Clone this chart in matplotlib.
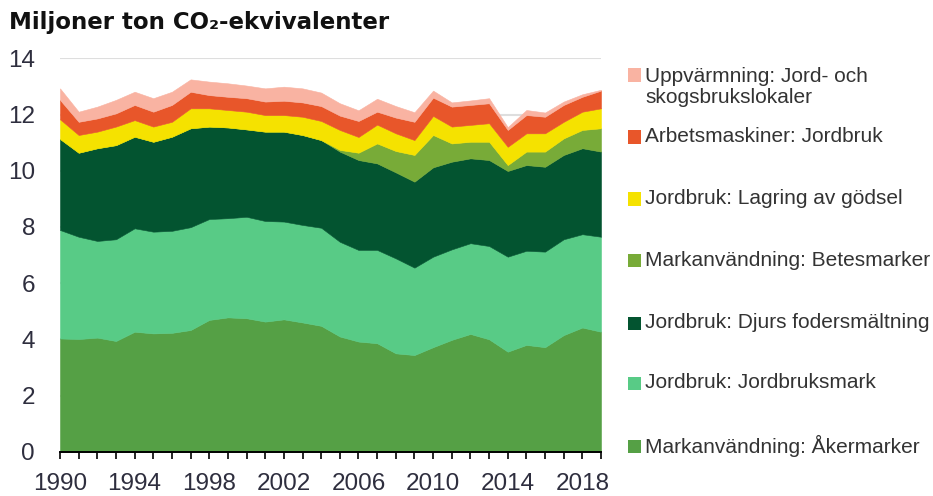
import matplotlib
matplotlib.use("Agg")
import matplotlib.pyplot as plt
from matplotlib.patches import Rectangle
from matplotlib.ticker import MultipleLocator

years = list(range(1990, 2020))

akermarker = [4.03, 4.01, 4.06, 3.94, 4.27, 4.21, 4.23, 4.33, 4.69, 4.78,
              4.75, 4.63, 4.71, 4.60, 4.48, 4.10, 3.92, 3.86, 3.50, 3.44,
              3.72, 3.98, 4.19, 4.00, 3.56, 3.80, 3.72, 4.15, 4.42, 4.27]
jordbruksmark = [3.86, 3.64, 3.44, 3.62, 3.68, 3.62, 3.63, 3.66, 3.59, 3.53,
                 3.61, 3.58, 3.48, 3.47, 3.49, 3.37, 3.26, 3.32, 3.38, 3.11,
                 3.22, 3.22, 3.23, 3.32, 3.38, 3.35, 3.40, 3.41, 3.32, 3.38]
fodersmaltning = [3.24, 2.99, 3.30, 3.35, 3.26, 3.20, 3.35, 3.52, 3.29, 3.23,
                  3.11, 3.18, 3.20, 3.20, 3.12, 3.21, 3.20, 3.08, 3.06, 3.06,
                  3.18, 3.12, 3.02, 3.06, 3.05, 3.05, 3.02, 3.00, 3.06, 3.03]
betesmarker = [0.00, 0.00, 0.00, 0.00, 0.00, 0.00, 0.00, 0.00, 0.00, 0.00,
               0.00, 0.00, 0.00, 0.00, 0.00, 0.06, 0.26, 0.71, 0.76, 0.95,
               1.15, 0.65, 0.59, 0.65, 0.21, 0.48, 0.54, 0.59, 0.65, 0.83]
lagring = [0.70, 0.63, 0.59, 0.66, 0.59, 0.54, 0.53, 0.71, 0.65, 0.62,
           0.63, 0.59, 0.59, 0.65, 0.68, 0.71, 0.56, 0.67, 0.63, 0.53,
           0.68, 0.60, 0.60, 0.66, 0.65, 0.65, 0.65, 0.59, 0.65, 0.71]
arbetsmaskiner = [0.69, 0.47, 0.47, 0.47, 0.54, 0.53, 0.60, 0.59, 0.47, 0.47,
                  0.48, 0.48, 0.51, 0.51, 0.53, 0.51, 0.57, 0.46, 0.56, 0.65,
                  0.65, 0.71, 0.71, 0.71, 0.60, 0.65, 0.59, 0.60, 0.53, 0.63]
uppvarmning = [0.41, 0.36, 0.42, 0.48, 0.47, 0.48, 0.47, 0.44, 0.48, 0.48,
               0.45, 0.47, 0.50, 0.50, 0.48, 0.44, 0.38, 0.46, 0.41, 0.34,
               0.25, 0.15, 0.16, 0.18, 0.10, 0.18, 0.15, 0.12, 0.09, 0.03]

series = [akermarker, jordbruksmark, fodersmaltning, betesmarker,
          lagring, arbetsmaskiner, uppvarmning]
labels = ["Markanvändning: Åkermarker",
          "Jordbruk: Jordbruksmark",
          "Jordbruk: Djurs fodersmältning",
          "Markanvändning: Betesmarker",
          "Jordbruk: Lagring av gödsel",
          "Arbetsmaskiner: Jordbruk",
          "Uppvärmning: Jord- och\nskogsbrukslokaler"]
colors = ["#55A045", "#58CB86", "#035430", "#78AB38",
          "#F5E200", "#E8562A", "#F9B3A2"]

title = "Miljoner ton CO\u2082-ekvivalenter"
xtick_labels = [str(y) for y in range(1990, 2019, 4)]
ytick_vals = list(range(0, 15, 2))

W, H = 933, 496
fig = plt.figure(figsize=(W / 100, H / 100), dpi=100)
ax = fig.add_axes([60 / W, 44.3 / H, 541 / W, 393.4 / H])

polys = ax.stackplot(years, *series, colors=colors, labels=labels, zorder=2)
for p, c in zip(polys, colors):
    p.set_edgecolor(c)
    p.set_linewidth(0.4)

ax.set_xlim(1990, 2019)
ax.set_ylim(0, 14)
ax.set_yticks(ytick_vals)
ax.set_xticks(list(range(1990, 2019, 4)))
ax.set_xticklabels(xtick_labels)
ax.xaxis.set_minor_locator(MultipleLocator(1))

ax.grid(axis="y", color="#DEDEDE", linewidth=1.5, zorder=0)
ax.set_axisbelow(True)
for s in ["left", "top", "right"]:
    ax.spines[s].set_visible(False)
ax.spines["bottom"].set_color("black")
ax.spines["bottom"].set_linewidth(1.4)
ax.spines["bottom"].set_zorder(5)

tick_font = "Liberation Sans"
ax.tick_params(axis="y", length=0, pad=18, labelsize=17.5, labelcolor="#2E2E3E")
ax.tick_params(axis="x", which="both", length=5, width=1.2, color="black",
               direction="out", pad=10, labelsize=17.5, labelcolor="#2E2E3E")
for lab in ax.get_xticklabels() + ax.get_yticklabels():
    lab.set_fontfamily(tick_font)

fig.text(9 / W, 1 - 23 / H, title, fontsize=16.5, fontweight="bold",
         family=["DejaVu Sans"], color="#111111",
         ha="left", va="center")

# legend (top entry first)
leg_centers = [87, 137, 199, 260, 323, 383, 446]
marker_centers = [75, 137, 199, 260, 323, 383, 446]
for i, (lab, col) in enumerate(zip(labels[::-1], colors[::-1])):
    yc = leg_centers[i]
    ym = marker_centers[i]
    fig.add_artist(Rectangle((628 / W, 1 - (ym + 6.5) / H), 13 / W, 13 / H,
                             transform=fig.transFigure, facecolor=col,
                             edgecolor="none"))
    fig.text(645 / W, 1 - yc / H, lab, fontsize=15, family=tick_font,
             color="#333333", ha="left", va="center", linespacing=1.12)

fig.savefig("out.png", dpi=100)
